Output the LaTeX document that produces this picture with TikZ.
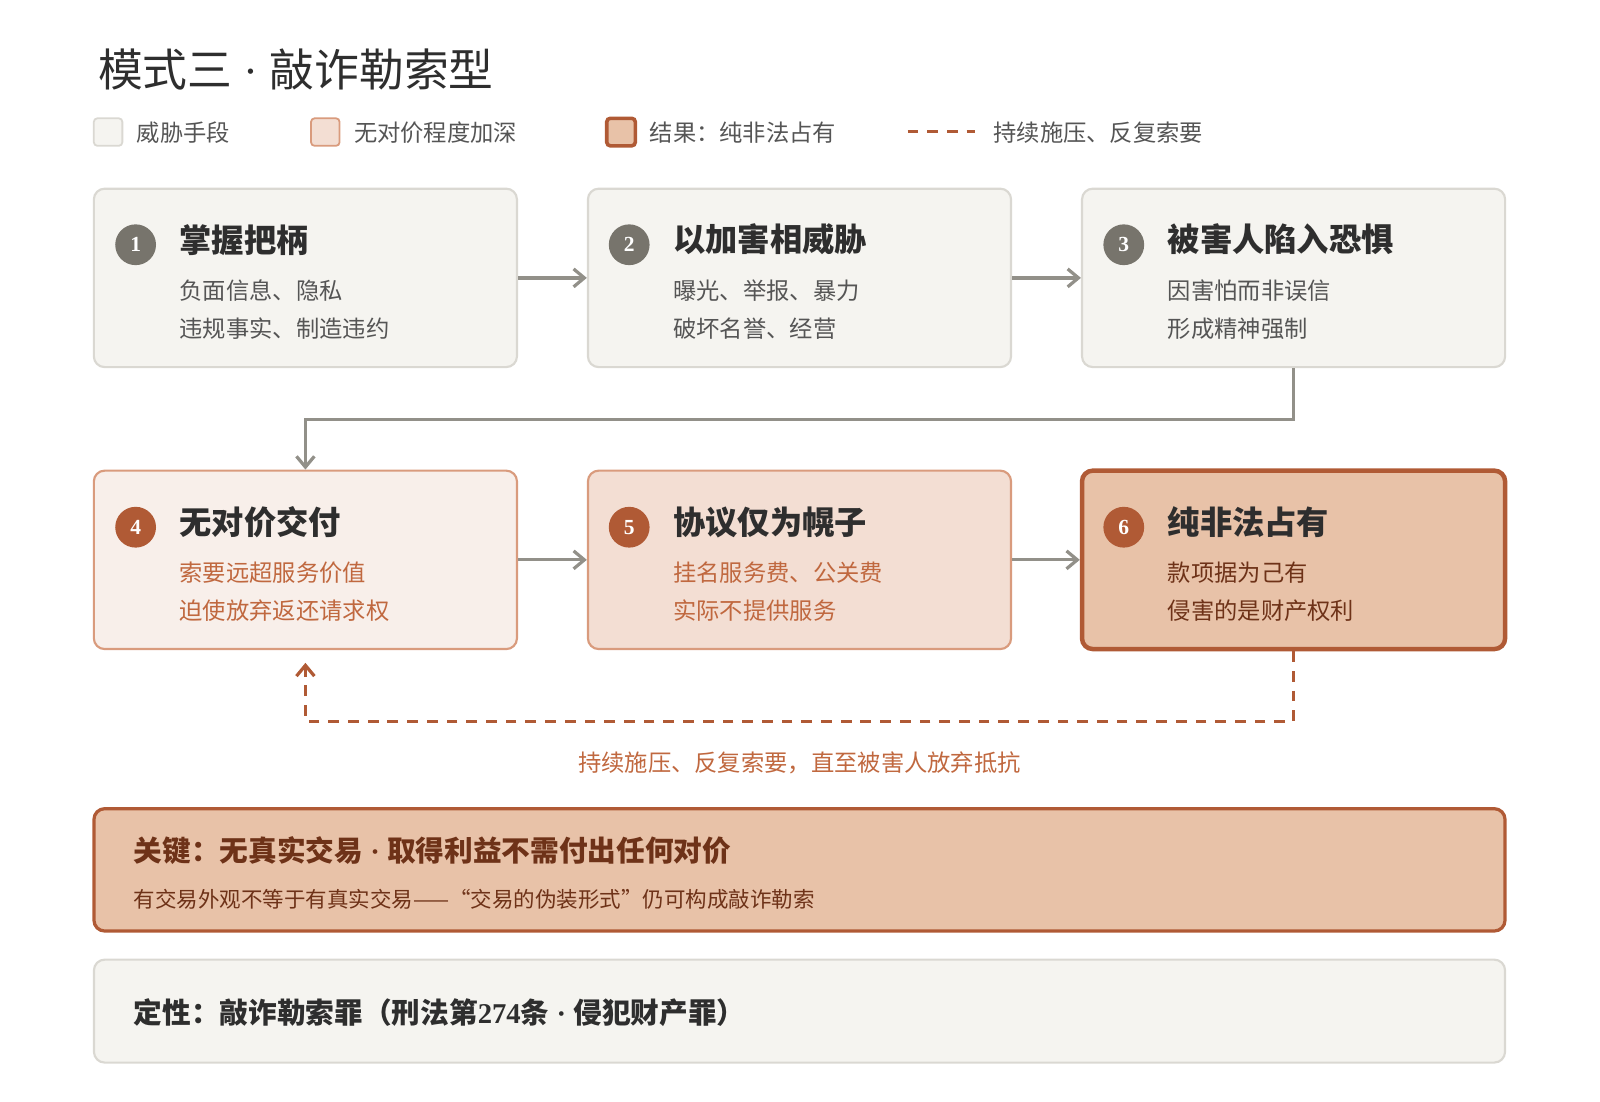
\documentclass[tikz,border=0pt]{standalone}
\usepackage{fontspec}
\setmainfont{Noto Sans CJK SC}
\newfontfamily\lat{Liberation Serif}
\usetikzlibrary{positioning,arrows.meta}
\definecolor{grayfill}{HTML}{F5F4F0}
\definecolor{grayline}{HTML}{DAD8D2}
\definecolor{lightfill}{HTML}{F8EFEA}
\definecolor{midfill}{HTML}{F3DED3}
\definecolor{deepfill}{HTML}{E8C2A8}
\definecolor{peachline}{HTML}{D99B7D}
\definecolor{rust}{HTML}{B05A35}
\definecolor{rusttext}{HTML}{C0683F}
\definecolor{darkrust}{HTML}{6E3218}
\definecolor{stone}{HTML}{77746C}
\definecolor{ink}{HTML}{2E2E2E}
\definecolor{subink}{HTML}{555555}
\newcommand{\mdot}{{\lat\ ·\ }}
\tikzset{
  box/.style={draw=grayline, fill=grayfill, line width=1.2pt, rounded corners=6pt,
    minimum width=8.3cm, minimum height=3.5cm},
  num/.style={circle, fill=#1, text=white, inner sep=0pt, minimum size=0.8cm, font=\lat\bfseries\large},
  ttl/.style={anchor=west, font=\fontsize{18}{20}\selectfont\bfseries, text=ink},
  sub/.style={anchor=west, font=\fontsize{13}{15}\selectfont, text=#1},
  flow/.style={-{Straight Barb[length=6pt,width=10pt]}, line width=1.8pt, draw=stone!80},
  back/.style={-{Straight Barb[length=6pt,width=10pt]}, line width=1.8pt, draw=rust, dash pattern=on 6pt off 5pt},
  legend/.style={anchor=west, font=\fontsize{13}{15}\selectfont, text=subink}
}
\begin{document}
\begin{tikzpicture}[x=0.02cm, y=-0.02cm]
  \useasboundingbox (0,0) rectangle (1569,1080.5);
  % title and legend
  \node[anchor=west, font=\fontsize{25}{28}\selectfont, text=ink] (title) at (90,68) {模式三\mdot 敲诈勒索型};
  \draw[grayline, fill=grayfill, line width=1pt, rounded corners=2pt] (92,116) rectangle (120,143);
  \node[legend] (lg1) at (128,130) {威胁手段};
  \draw[peachline, fill=midfill, line width=1pt, rounded corners=2pt] (305,116) rectangle (333,143);
  \node[legend] (lg2) at (341,130) {无对价程度加深};
  \draw[rust, fill=deepfill, line width=2pt, rounded corners=2pt] (595,116) rectangle (623,143);
  \node[legend] (lg3) at (631,130) {结果：纯非法占有};
  \draw[rust, line width=1.8pt, dash pattern=on 6pt off 5pt] (890,129) -- (956,129);
  \node[legend] (lg4) at (968,130) {持续施压、反复索要};
  % boxes, row 1
  \node[box] (b1) at (299.5,272.5) {};
  \node[box] (b2) at (784,272.5) {};
  \node[box] (b3) at (1268.5,272.5) {};
  % boxes, row 2
  \node[box, draw=peachline, fill=lightfill] (b4) at (299.5,549) {};
  \node[box, draw=peachline, fill=midfill] (b5) at (784,549) {};
  \node[box, draw=rust, fill=deepfill, line width=2.5pt] (b6) at (1268.5,549) {};
  % contents
  \node[num=stone] (n1) at (133,240) {1};
  \node[ttl] (t1) at (170,235) {掌握把柄};
  \node[sub=subink] (s1a) at (170,285) {负面信息、隐私};
  \node[sub=subink] (s1b) at (170,322) {违规事实、制造违约};
  \node[num=stone] (n2) at (617,240) {2};
  \node[ttl] (t2) at (654,235) {以加害相威胁};
  \node[sub=subink] (s2a) at (654,285) {曝光、举报、暴力};
  \node[sub=subink] (s2b) at (654,322) {破坏名誉、经营};
  \node[num=stone] (n3) at (1102,240) {3};
  \node[ttl] (t3) at (1139,235) {被害人陷入恐惧};
  \node[sub=subink] (s3a) at (1139,285) {因害怕而非误信};
  \node[sub=subink] (s3b) at (1139,322) {形成精神强制};
  \node[num=rust] (n4) at (133,517) {4};
  \node[ttl] (t4) at (170,512) {无对价交付};
  \node[sub=rusttext] (s4a) at (170,562) {索要远超服务价值};
  \node[sub=rusttext] (s4b) at (170,599) {迫使放弃返还请求权};
  \node[num=rust] (n5) at (617,517) {5};
  \node[ttl] (t5) at (654,512) {协议仅为幌子};
  \node[sub=rusttext] (s5a) at (654,562) {挂名服务费、公关费};
  \node[sub=rusttext] (s5b) at (654,599) {实际不提供服务};
  \node[num=rust] (n6) at (1102,517) {6};
  \node[ttl] (t6) at (1139,512) {纯非法占有};
  \node[sub=darkrust] (s6a) at (1139,562) {款项据为己有};
  \node[sub=darkrust] (s6b) at (1139,599) {侵害的是财产权利};
  % connectors
  \draw[flow] (b1) -- (b2);
  \draw[flow] (b2) -- (b3);
  \draw[flow] (b3.south) -- ++(0,50) -| (b4.north);
  \draw[flow] (b4) -- (b5);
  \draw[flow] (b5) -- (b6);
  \coordinate (backend) at (299.5,650);
  \draw[back] (b6.south) -- ++(0,69) -| (backend);
  \node[font=\fontsize{13}{15}\selectfont, text=rusttext] (backlbl) at (784,748) {持续施压、反复索要，直至被害人放弃抵抗};
  % key and verdict
  \node[box, draw=rust, fill=deepfill, line width=1.8pt, minimum width=27.68cm, minimum height=2.4cm] (key) at (784,853) {};
  \node[anchor=west, font=\fontsize{16}{18}\selectfont\bfseries, text=darkrust] (keyt) at (125,834) {关键：无真实交易\mdot 取得利益不需付出任何对价};
  \node[anchor=west, font=\fontsize{12}{14}\selectfont, text=darkrust] (keys) at (125,882) {有交易外观不等于有真实交易——“交易的伪装形式”仍可构成敲诈勒索};
  \node[box, minimum width=27.68cm, minimum height=2.02cm] (verdict) at (784,991.5) {};
  \node[anchor=west, font=\fontsize{16}{18}\selectfont\bfseries, text=ink] (vt) at (125,993) {定性：敲诈勒索罪（刑法第{\lat 274}条\mdot 侵犯财产罪）};
\end{tikzpicture}
\end{document}
